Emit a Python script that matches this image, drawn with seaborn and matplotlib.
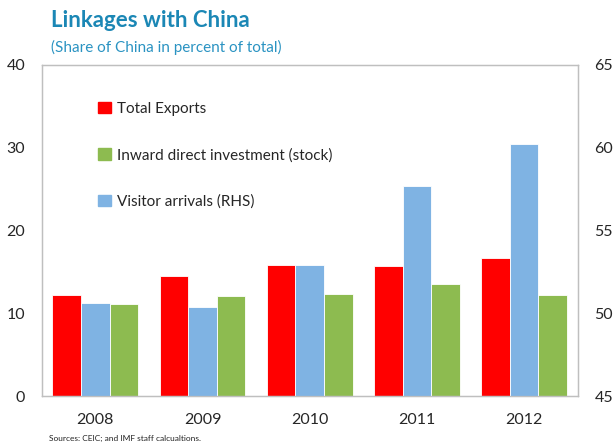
import pandas as pd
import matplotlib.pyplot as plt
import seaborn as sns

# ---- data ----
years = ['2008', '2009', '2010', '2011', '2012']
total_exports = [12.2, 14.5, 15.8, 15.7, 16.7]          # LHS
inward_fdi = [11.1, 12.1, 12.3, 13.5, 12.2]             # LHS
visitor_arrivals = [50.6, 50.4, 52.9, 57.7, 60.2]       # RHS

lbl_exp = 'Total Exports'
lbl_fdi = 'Inward direct investment (stock)'
lbl_vis = 'Visitor arrivals (RHS)'
hue_levels = [lbl_exp, lbl_vis, lbl_fdi]
colors = {lbl_exp: '#FF0000', lbl_vis: '#7FB3E3', lbl_fdi: '#8DBB50'}

left_df = pd.DataFrame({
    'year': years * 2,
    'value': total_exports + inward_fdi,
    'series': [lbl_exp] * 5 + [lbl_fdi] * 5,
})
right_df = pd.DataFrame({'year': years, 'value': visitor_arrivals, 'series': [lbl_vis] * 5})

sns.set_style('white')
plt.rcParams['font.family'] = ['Lato', 'DejaVu Sans']

fig = plt.figure(figsize=(6.14, 4.47), dpi=100)
ax = fig.add_axes([0.068, 0.114, 0.873, 0.741])

bar_kw = dict(x='year', y='value', hue='series', hue_order=hue_levels, palette=colors,
              order=years, width=0.8, dodge=True, saturation=1,
              edgecolor='white', linewidth=0.6, legend=False)

sns.barplot(data=left_df, ax=ax, **bar_kw)
ax2 = ax.twinx()
sns.barplot(data=right_df, ax=ax2, **bar_kw)

ax.set_ylim(0, 40)
ax.set_yticks([0, 10, 20, 30, 40])
ax2.set_ylim(45, 65)
ax2.set_yticks([45, 50, 55, 60, 65])
ax.set_xlabel('')
ax.set_ylabel('')
ax2.set_ylabel('')
ax.tick_params(axis='y', length=0, labelsize=11.5, pad=12)
ax.tick_params(axis='x', length=0, labelsize=11.5, pad=12)
ax2.tick_params(axis='y', length=0, labelsize=11.5, pad=12)

for a in (ax, ax2):
    for s in a.spines.values():
        s.set_color('#BFBFBF')
        s.set_linewidth(0.9)

# legend
handles = [plt.Rectangle((0, 0), 1, 1, color=colors[k]) for k in [lbl_exp, lbl_fdi, lbl_vis]]
ax2.legend(handles, [lbl_exp, lbl_fdi, lbl_vis], loc='upper left',
           bbox_to_anchor=(0.08, 0.93), frameon=False, fontsize=11,
           labelspacing=2.1, handlelength=0.8, handleheight=0.8, handletextpad=0.4)

fig.text(0.083, 0.955, 'Linkages with China', fontsize=16, fontweight='bold',
         color='#1B87B5', va='center')
fig.text(0.083, 0.893, '(Share of China in percent of total)', fontsize=11,
         color='#2A93C2', va='center')
fig.text(0.08, 0.02, 'Sources: CEIC; and IMF staff calcualtions.', fontsize=6,
         color='#222222', va='center')

fig.savefig('out.png', dpi=100)
